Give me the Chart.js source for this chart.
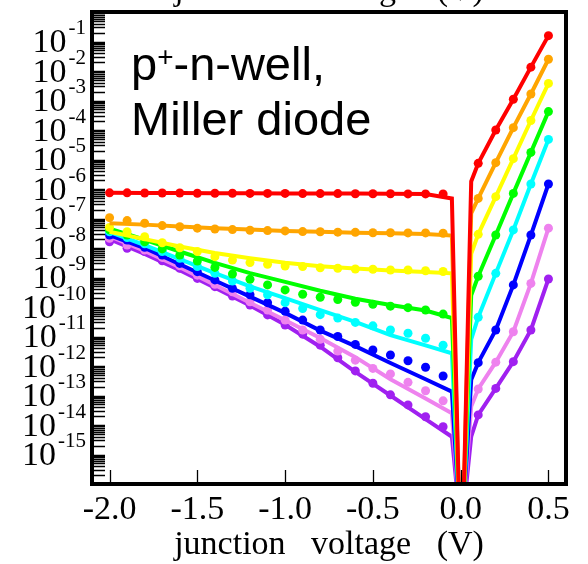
<!DOCTYPE html>
<html>
<head>
<meta charset="utf-8">
<script src="https://cdn.jsdelivr.net/npm/chart.js@4.4.1/dist/chart.umd.min.js"></script>
<style>
  body { margin: 0; background: #fff; }
  canvas { display: block; }
</style>
</head>
<body>
<canvas id="diodeChart" width="588" height="564"></canvas>
<script>
// Measured points: reverse sweep then forward sweep (junction voltage, V)
const xMeas = [-2.0, -1.9, -1.8, -1.7, -1.6, -1.5, -1.4, -1.3, -1.2, -1.1, -1.0, -0.9, -0.8, -0.7, -0.6, -0.5, -0.4, -0.3, -0.2, -0.1,
               0.1, 0.2, 0.3, 0.4, 0.5];
// Model curves
const xModel = [-2.0, -1.8, -1.6, -1.4, -1.2, -1.0, -0.8, -0.6, -0.4, -0.2, -0.05, -0.008, 0.015, 0.06, 0.1, 0.2, 0.3, 0.4, 0.5];

// Current (A), measured
const redMeas    = [7.4e-7, 7.4e-7, 7.3e-7, 7.3e-7, 7.3e-7, 7.2e-7, 7.2e-7, 7.2e-7, 7.1e-7, 7.1e-7, 7.1e-7, 7.0e-7, 7.0e-7, 7.0e-7, 6.9e-7, 6.9e-7, 6.9e-7, 6.8e-7, 6.8e-7, 6.8e-7,
                    7.4e-6, 1.0e-4, 1.1e-3, 1.35e-2, 0.158];
const orangeMeas = [1.07e-7, 8.5e-8, 6.9e-8, 5.75e-8, 5.25e-8, 4.7e-8, 4.4e-8, 4.2e-8, 4.0e-8, 3.9e-8, 3.8e-8, 3.6e-8, 3.55e-8, 3.45e-8, 3.4e-8, 3.3e-8, 3.3e-8, 3.25e-8, 3.25e-8, 3.15e-8,
                    4.8e-7, 7.8e-6, 1.2e-4, 1.66e-3, 2.5e-2];
const yellowMeas = [5.0e-8, 3.55e-8, 2.4e-8, 1.5e-8, 1.02e-8, 7.6e-9, 5.1e-9, 3.9e-9, 3.2e-9, 2.8e-9, 2.45e-9, 2.35e-9, 2.15e-9, 2.05e-9, 1.95e-9, 1.9e-9, 1.8e-9, 1.8e-9, 1.7e-9, 1.6e-9,
                    2.9e-8, 5.5e-7, 1.07e-5, 2.1e-4, 3.8e-3];
const greenMeas  = [4.1e-8, 2.75e-8, 1.62e-8, 9.3e-9, 5.75e-9, 3.6e-9, 2.2e-9, 1.32e-9, 8.7e-10, 5.6e-10, 3.8e-10, 2.7e-10, 2.15e-10, 1.8e-10, 1.45e-10, 1.23e-10, 1.07e-10, 9.5e-11, 7.9e-11, 5.75e-11,
                    1.1e-9, 2.75e-8, 7.1e-7, 1.74e-5, 4.2e-4];
const cyanMeas   = [3.55e-8, 2.25e-8, 1.38e-8, 7.6e-9, 4.5e-9, 2.35e-9, 1.38e-9, 7.6e-10, 4.3e-10, 2.6e-10, 1.4e-10, 8.9e-11, 5.5e-11, 4.2e-11, 3.0e-11, 2.3e-11, 1.66e-11, 1.29e-11, 8.7e-12, 5.1e-12,
                    4.5e-11, 1.38e-9, 4.1e-8, 1.48e-6, 4.8e-5];
const blueMeas   = [2.75e-8, 1.86e-8, 1.05e-8, 5.75e-9, 3.0e-9, 1.58e-9, 8.3e-10, 4.3e-10, 2.6e-10, 1.4e-10, 7.2e-11, 3.6e-11, 1.66e-11, 1.0e-11, 5.4e-12, 3.5e-12, 2.35e-12, 1.5e-12, 9.1e-13, 4.6e-13,
                    1.3e-12, 1.66e-11, 5.6e-10, 2.75e-8, 1.48e-6];
const violetMeas = [2.15e-8, 1.26e-8, 8.5e-9, 4.8e-9, 2.5e-9, 1.2e-9, 5.9e-10, 3.3e-10, 1.5e-10, 7.9e-11, 3.6e-11, 1.66e-11, 8.1e-12, 3.2e-12, 1.58e-12, 8.3e-13, 5.4e-13, 2.8e-13, 1.45e-13, 6.6e-14,
                    1.66e-13, 1.35e-12, 1.45e-11, 6.3e-10, 4.7e-8];
const purpleMeas = [1.62e-8, 9.8e-9, 7.6e-9, 3.7e-9, 2.05e-9, 9.3e-10, 4.9e-10, 2.35e-10, 1.17e-10, 5.4e-11, 2.45e-11, 1.2e-11, 5.1e-12, 1.9e-12, 6.8e-13, 2.6e-13, 1.05e-13, 4.8e-14, 1.9e-14, 8.7e-15,
                    2.2e-14, 1.74e-13, 1.4e-12, 1.66e-11, 8.9e-10];

// Current (A), model
const redModel    = [7.4e-7, 7.3e-7, 7.3e-7, 7.2e-7, 7.2e-7, 7.1e-7, 7.0e-7, 7.0e-7, 6.9e-7, 6.8e-7, 4.8e-7, 1e-17, 1e-17, 1.8e-6, 7.4e-6, 1.0e-4, 1.1e-3, 1.35e-2, 0.158];
const orangeModel = [6.9e-8, 6.2e-8, 5.4e-8, 4.7e-8, 4.2e-8, 3.8e-8, 3.55e-8, 3.3e-8, 3.15e-8, 3.0e-8, 2.65e-8, 1e-17, 1e-17, 1.5e-7, 4.8e-7, 7.8e-6, 1.2e-4, 1.66e-3, 2.5e-2];
const yellowModel = [3.55e-8, 2.0e-8, 1.12e-8, 6.8e-9, 4.5e-9, 3.15e-9, 2.4e-9, 2.0e-9, 1.74e-9, 1.55e-9, 1.38e-9, 1e-17, 1e-17, 6.3e-9, 2.9e-8, 5.5e-7, 1.07e-5, 2.1e-4, 3.8e-3];
const greenModel  = [4.5e-8, 1.9e-8, 7.6e-9, 3.15e-9, 1.4e-9, 7.1e-10, 3.55e-10, 1.9e-10, 1.17e-10, 7.6e-11, 4.2e-11, 1e-17, 1e-17, 2.5e-10, 1.1e-9, 2.75e-8, 7.1e-7, 1.74e-5, 4.2e-4];
const cyanModel   = [3.55e-8, 1.26e-8, 4.2e-9, 1.4e-9, 5.0e-10, 2.0e-10, 7.9e-11, 3.15e-11, 1.12e-11, 5.0e-12, 2.7e-12, 1e-17, 1e-17, 7.9e-12, 4.5e-11, 1.38e-9, 4.1e-8, 1.48e-6, 4.8e-5];
const blueModel   = [2.75e-8, 1.0e-8, 2.8e-9, 7.9e-10, 2.25e-10, 6.3e-11, 1.58e-11, 4.7e-12, 1.26e-12, 3.55e-13, 1.35e-13, 1e-17, 1e-17, 3.4e-13, 1.3e-12, 1.66e-11, 5.6e-10, 2.75e-8, 1.48e-6];
const violetModel = [2.5e-8, 7.9e-9, 2.25e-9, 5.6e-10, 1.4e-10, 3.55e-11, 8.9e-12, 2.0e-12, 3.55e-13, 7.9e-14, 2.5e-14, 1e-17, 1e-17, 4.2e-14, 1.66e-13, 1.35e-12, 1.45e-11, 6.3e-10, 4.7e-8];
const purpleModel = [2.0e-8, 6.3e-9, 1.78e-9, 4.5e-10, 1.12e-10, 2.5e-11, 4.5e-12, 6.3e-13, 1.0e-13, 1.58e-14, 4.0e-15, 1e-17, 1e-17, 4.0e-15, 2.2e-14, 1.74e-13, 1.4e-12, 1.66e-11, 8.9e-10];

const seriesColors = ['#ff0000', '#ffa500', '#ffff00', '#00ff00', '#00ffff', '#0000ff', '#ee82ee', '#a020f0'];
const measSeries  = [redMeas, orangeMeas, yellowMeas, greenMeas, cyanMeas, blueMeas, violetMeas, purpleMeas];
const modelSeries = [redModel, orangeModel, yellowModel, greenModel, cyanModel, blueModel, violetModel, purpleModel];

// Axis ticks
const xTicks = [-2.0, -1.5, -1.0, -0.5, 0.0, 0.5];
const xTickLabels = ['-2.0', '-1.5', '-1.0', '-0.5', '0.0', '0.5'];
const yExponents = [-1, -2, -3, -4, -5, -6, -7, -8, -9, -10, -11, -12, -13, -14, -15];
const xTitle = 'junction   voltage   (V)';

const toPoints = (xs, ys) => xs.map((x, i) => ({ x: x, y: ys[i] }));

// red first so it ends up on top
const datasets = [];
seriesColors.forEach((color, i) => {
  datasets.push({
    data: toPoints(xMeas, measSeries[i]),
    showLine: false,
    pointRadius: 4.5,
    pointBorderWidth: 0,
    pointBackgroundColor: color,
    borderColor: color
  });
  datasets.push({
    data: toPoints(xModel, modelSeries[i]),
    showLine: true,
    borderColor: color,
    borderWidth: 4,
    pointRadius: 0,
    tension: 0
  });
});

// Frame, inside ticks, tick labels, titles and the annotation
const framePlugin = {
  id: 'frame',
  afterDraw(chart) {
    const ctx = chart.ctx;
    const area = chart.chartArea;
    const xs = chart.scales.x;
    const ys = chart.scales.y;
    ctx.save();

    // tick marks
    ctx.strokeStyle = '#000';
    ctx.lineWidth = 1.3;
    ctx.beginPath();
    for (let d = -16; d <= 0; d++) {
      for (let m = 1; m <= 9; m++) {
        const v = m * Math.pow(10, d);
        if (v < 1e-16 || v > 1) continue;
        const py = Math.round(ys.getPixelForValue(v)) + 0.5;
        ctx.moveTo(area.left, py);
        ctx.lineTo(area.left + 13, py);
      }
    }
    xTicks.forEach(t => {
      const px = Math.round(xs.getPixelForValue(t)) + 0.5;
      ctx.moveTo(px, area.bottom);
      ctx.lineTo(px, area.bottom - 14);
    });
    ctx.stroke();

    // frame
    ctx.lineWidth = 4;
    ctx.strokeRect(area.left, area.top, area.right - area.left, area.bottom - area.top);

    // x tick labels
    ctx.fillStyle = '#000';
    ctx.font = '34px "Liberation Serif"';
    ctx.textAlign = 'center';
    ctx.textBaseline = 'alphabetic';
    xTicks.forEach((t, i) => {
      ctx.fillText(xTickLabels[i], xs.getPixelForValue(t), 519);
    });

    // x title, and the clipped copy at the very top
    ctx.fillText(xTitle, (area.left + area.right) / 2, 554);
    ctx.fillText(xTitle, (area.left + area.right) / 2, -0.5);

    // y tick labels: 10 with raised exponent
    yExponents.forEach(e => {
      const py = ys.getPixelForValue(Math.pow(10, e));
      ctx.textAlign = 'right';
      ctx.textBaseline = 'middle';
      ctx.font = '21px "Liberation Serif"';
      const exp = String(e);
      ctx.fillText(exp, 86, py - 13);
      const ew = ctx.measureText(exp).width;
      ctx.font = '34px "Liberation Serif"';
      ctx.fillText('10', 86 - ew - 2, py + 2);
    });

    // annotation
    ctx.textAlign = 'left';
    ctx.textBaseline = 'alphabetic';
    ctx.font = '47px "Liberation Sans"';
    let tx = 131;
    ctx.fillText('p', tx, 80);
    tx += ctx.measureText('p').width;
    ctx.font = '28px "Liberation Sans"';
    ctx.fillText('+', tx, 66);
    tx += ctx.measureText('+').width;
    ctx.font = '47px "Liberation Sans"';
    ctx.fillText('-n-well,', tx, 80);
    ctx.fillText('Miller diode', 131, 135);

    ctx.restore();
  }
};

const ctx = document.getElementById('diodeChart').getContext('2d');
const diodeChart = new Chart(ctx, {
  type: 'scatter',
  data: { datasets: datasets },
  options: {
    responsive: false,
    animation: false,
    devicePixelRatio: 1,
    layout: { padding: { left: 92, right: 22, top: 12, bottom: 80 } },
    plugins: {
      legend: { display: false },
      tooltip: { enabled: false }
    },
    scales: {
      x: { type: 'linear', min: -2.1, max: 0.6, display: false },
      y: { type: 'logarithmic', min: 1e-16, max: 1, display: false }
    }
  },
  plugins: [framePlugin]
});
</script>
</body>
</html>
